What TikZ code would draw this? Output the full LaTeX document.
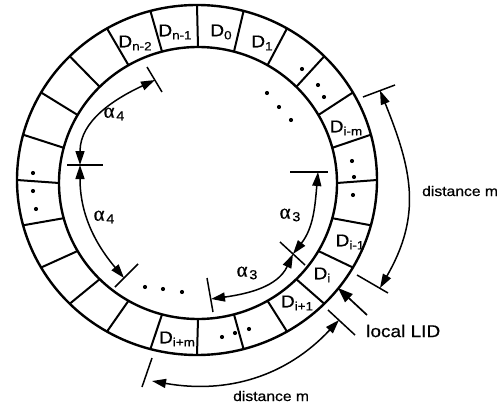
\documentclass[tikz,border=0pt]{standalone}
\usepackage{fontspec}
\setmainfont{Liberation Sans}
\newfontfamily\lblfont[FakeStretch=1.12,FakeBold=0.6]{Liberation Sans}
\newfontfamily\grkfont[FakeBold=0.6]{Liberation Serif}
\usetikzlibrary{arrows.meta,calc}
\newcommand{\Dlab}[1]{D\raisebox{-0.35ex}{\fontsize{12}{12}\selectfont #1}}
\newcommand{\alab}[1]{{\grkfont\fontsize{21}{21}\selectfont α}\,\raisebox{-0.5ex}{\fontsize{13}{13}\selectfont #1}}
\begin{document}
\begin{tikzpicture}[x=1pt,y=1pt,
  ring/.style={line width=2.4pt},
  sep/.style={line width=2pt},
  tickline/.style={line width=1.5pt},
  arr/.style={line width=1.5pt,{Triangle[length=14pt,width=9pt]}-{Triangle[length=14pt,width=9pt]}},
  lidarrow/.style={line width=1.7pt,-{Triangle[length=15pt,width=11pt]}},
  dlabel/.style={font=\lblfont\fontsize{17}{17}\selectfont, inner sep=0pt},
  txtlabel/.style={font=\lblfont\fontsize{14}{14}\selectfont, inner sep=0pt, anchor=west},
  lidlabel/.style={font=\lblfont\fontsize{17}{17}\selectfont, inner sep=0pt, anchor=west},
  alabel/.style={font=\lblfont, inner sep=0pt},
  celldot/.style={fill=black}
]
\useasboundingbox (0,0) rectangle (504,-404);
% ring
\draw[ring] (197,-180) ellipse [x radius=180pt, y radius=175pt];
\draw[ring] (198,-183) ellipse [x radius=139pt, y radius=136pt];
\foreach \a in {0,15,...,345}
  \draw[sep] ({198+139*cos(\a)},{-183+136*sin(\a)}) -- ({197+180*cos(\a)},{-180+175*sin(\a)});
% cell labels
\node[dlabel] (dn1) at (175,-32) {\Dlab{n-1}};
\node[dlabel] (d0) at (221,-32) {\Dlab{0}};
\node[dlabel] (d1) at (262,-43) {\Dlab{1}};
\node[dlabel] (dn2) at (135,-43) {\Dlab{n-2}};
\node[dlabel] (dim) at (346,-128) {\Dlab{i-m}};
\node[dlabel] (di1) at (350,-242) {\Dlab{i-1}};
\node[dlabel] (di) at (322,-275) {\Dlab{i}};
\node[dlabel] (dip1) at (297,-303) {\Dlab{i+1}};
\node[dlabel] (dipm) at (177,-339) {\Dlab{i+m}};
% dots in cells and inside
\foreach \p in {(302,-69),(318,-85),(324,-97),(352,-161),(354,-177),(353,-195),
  (249,-329),(222,-337),(235,-333),(33,-173),(33,-191),(36,-209),
  (267,-93),(279,-107),(291,-120),(145,-287),(163,-289),(182,-292)}
  \fill[celldot] \p circle (2.1pt);
% ticks
\draw[tickline] (147,-67) -- (162,-92);
\draw[tickline] (67,-165) -- (103,-165);
\draw[tickline] (115,-287) -- (138,-264);
\draw[tickline] (290,-172) -- (328,-172);
\draw[tickline] (280,-242) -- (305,-265);
\draw[tickline] (207,-278) -- (213,-312);
\draw[tickline] (363,-97) -- (395,-85);
\draw[tickline] (357,-275) -- (388,-293);
\draw[tickline] (328,-310) -- (355,-335);
\draw[tickline] (152,-358) -- (142,-387);
% arrow end points
\coordinate (A1) at (155,-80);
\coordinate (A2) at (80,-165);
\coordinate (A3) at (124,-278);
\coordinate (B1) at (318,-172);
\coordinate (B2) at (293,-254);
\coordinate (B4) at (211,-299);
\coordinate (C1) at (380,-90.5);
\coordinate (C2) at (380,-288);
\coordinate (E1) at (339,-320);
\coordinate (E2) at (152,-381);
\coordinate (L0) at (367,-315);
\coordinate (L1) at (338,-288);
% dimension arcs
\draw[arr] (A1) to[out=205,in=90] (A2);
\draw[arr] (A2) to[out=270,in=130] (A3);
\draw[arr] (B1) to[out=265,in=52] (B2);
\draw[arr] (B2) to[out=245,in=8] (B4);
\draw[arr] (C1) to[out=-68,in=60,looseness=1.1] (C2);
\draw[arr] (E1) to[out=227,in=-10] (E2);
\draw[lidarrow] (L0) -- (L1);
% labels
\node[alabel] (a4a) at (114,-114) {\alab{4}};
\node[alabel] (a4b) at (104,-217) {\alab{4}};
\node[alabel] (a3a) at (290,-215) {\alab{3}};
\node[alabel] (a3b) at (247,-273) {\alab{3}};
\node[txtlabel] (dm1) at (422,-191) {distance m};
\node[lidlabel] (lid) at (366,-331) {local LID};
\node[txtlabel] (dm2) at (233,-396) {distance m};
\end{tikzpicture}
\end{document}
